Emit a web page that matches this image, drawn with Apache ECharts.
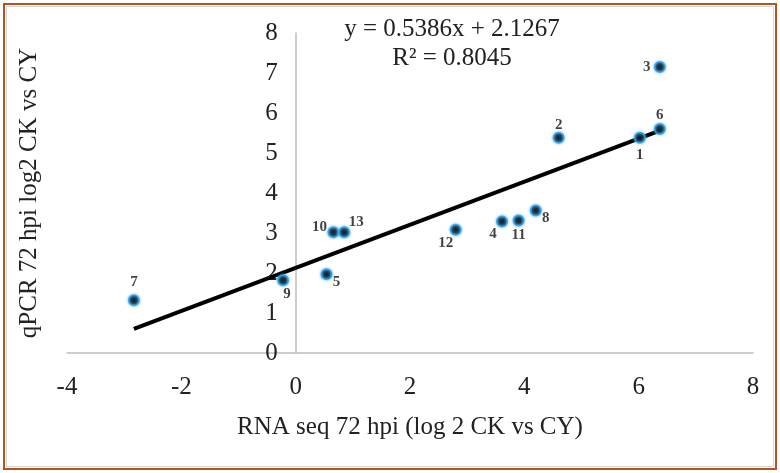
<!DOCTYPE html>
<html>
<head>
<meta charset="utf-8">
<script src="https://cdn.jsdelivr.net/npm/echarts@6/dist/echarts.min.js"></script>
<style>
  html, body { margin: 0; padding: 0; background: #fff; }
  #chart { width: 780px; height: 473px; }
</style>
</head>
<body>
<div id="chart"></div>
<script>
// gene numbers, RNA-seq log2 (x) and qPCR log2 (y)
const geneIds = ['1', '2', '3', '4', '5', '6', '7', '8', '9', '10', '11', '12', '13'];
const rnaSeq = [6.02, 4.6, 6.37, 3.61, 0.54, 6.37, -2.83, 4.2, -0.22, 0.66, 3.9, 2.8, 0.85];
const qpcr = [5.38, 5.38, 7.15, 3.29, 1.97, 5.6, 1.32, 3.56, 1.82, 3.02, 3.31, 3.08, 3.02];

// fitted trendline as shown on the chart
const slope = 0.5386;
const intercept = 2.1267;
const rSquared = '0.8045';

const xTicks = [-4, -2, 0, 2, 4, 6, 8];
const yTicks = [0, 1, 2, 3, 4, 5, 6, 7, 8];

// label offsets from point centre (px)
const labelOffsets = {
  '1': [0, 17], '2': [0, -13], '3': [-13, 0], '4': [-9, 13], '5': [10, 8],
  '6': [0, -14], '7': [0, -18], '8': [10, 8], '9': [4, 14], '10': [-14, -5],
  '11': [0, 15], '12': [-10, 13], '13': [12, -10]
};

const serif = '"Liberation Serif", "DejaVu Serif", serif';

const chart = echarts.init(document.getElementById('chart'));

const gridLeft = 67, gridRight = 27;
const plotW = 780 - gridLeft - gridRight;
const xMinAxis = xTicks[0], xMaxAxis = xTicks[xTicks.length - 1];
// move the y axis (line and labels) to x = 0
const zeroOffset = plotW * (0 - xMinAxis) / (xMaxAxis - xMinAxis);

const xMin = Math.min(...rnaSeq);
const xMax = Math.max(...rnaSeq);

const option = {
  animation: false,
  grid: { left: gridLeft, right: gridRight, top: 33, bottom: 120, containLabel: false, outerBoundsMode: 'none' },
  xAxis: {
    type: 'value',
    min: xMinAxis,
    max: xMaxAxis,
    interval: 2,
    name: 'RNA seq 72 hpi (log 2 CK vs CY)',
    nameLocation: 'middle',
    nameGap: 62,
    nameTextStyle: { fontFamily: serif, fontSize: 25, color: '#222' },
    axisLine: { onZero: false, lineStyle: { color: '#bdbdbd', width: 1.5 } },
    axisTick: { show: false },
    splitLine: { show: false },
    axisLabel: { fontFamily: serif, fontSize: 25, color: '#222', margin: 22 }
  },
  yAxis: {
    type: 'value',
    min: yTicks[0],
    max: yTicks[yTicks.length - 1],
    interval: 1,
    offset: -zeroOffset,
    name: 'qPCR 72 hpi log2 CK vs CY',
    nameLocation: 'middle',
    nameGap: 254,
    nameRotate: 90,
    nameTextStyle: { fontFamily: serif, fontSize: 25, color: '#222' },
    axisLine: { show: true, onZero: false, lineStyle: { color: '#bdbdbd', width: 1.5 } },
    axisTick: { show: false },
    splitLine: { show: false },
    axisLabel: { fontFamily: serif, fontSize: 25, color: '#222', margin: 18 }
  },
  graphic: [
    {
      type: 'rect',
      shape: { x: 4, y: 4, width: 772, height: 465 },
      style: { fill: 'none', stroke: '#b4531f', lineWidth: 2 },
      silent: true
    },
    {
      type: 'rect',
      shape: { x: 6.5, y: 6.5, width: 767, height: 460 },
      style: { fill: 'none', stroke: '#d6d6d6', lineWidth: 1 },
      silent: true
    },
    {
      type: 'text',
      x: 452,
      y: 29,
      style: {
        text: 'y = ' + slope + 'x + ' + intercept,
        font: '25px ' + serif,
        fill: '#222',
        textAlign: 'center',
        textVerticalAlign: 'middle'
      }
    },
    {
      type: 'text',
      x: 452,
      y: 58,
      style: {
        text: 'R² = ' + rSquared,
        font: '25px ' + serif,
        fill: '#222',
        textAlign: 'center',
        textVerticalAlign: 'middle'
      }
    }
  ],
  series: [
    {
      type: 'line',
      data: [[xMin, slope * xMin + intercept], [xMax, slope * xMax + intercept]],
      showSymbol: false,
      lineStyle: { color: '#000', width: 4 },
      z: 2
    },
    {
      type: 'scatter',
      symbolSize: 10,
      itemStyle: {
        color: '#000',
        borderColor: '#2a9de6',
        borderWidth: 2,
        shadowBlur: 3,
        shadowColor: '#4fb3f2'
      },
      label: {
        show: true,
        position: 'inside',
        formatter: (p) => p.data.name,
        fontFamily: serif,
        fontWeight: 'bold',
        fontSize: 15,
        color: '#111'
      },
      data: geneIds.map((id, i) => ({
        name: id,
        value: [rnaSeq[i], qpcr[i]],
        label: { offset: labelOffsets[id] }
      })),
      z: 3
    }
  ]
};

chart.setOption(option);
</script>
</body>
</html>
